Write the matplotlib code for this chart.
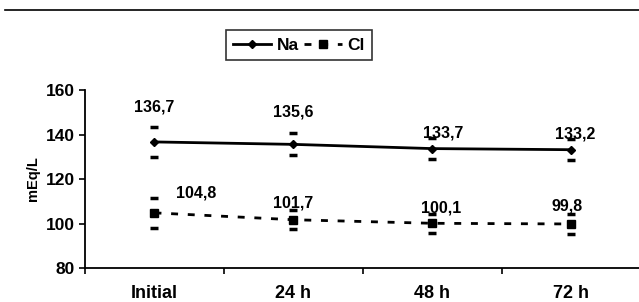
import numpy as np
import matplotlib.pyplot as plt
from matplotlib.lines import Line2D

plt.rcParams['font.family'] = 'Liberation Sans'
plt.rcParams['font.weight'] = 'bold'
plt.rcParams['font.size'] = 12

# ── data ─────────────────────────────────────────────────────────
categories = ['Initial', '24 h', '48 h', '72 h']
na_mean = [136.7, 135.6, 133.7, 133.2]
na_sd   = [6.8, 5.0, 4.9, 4.7]
cl_mean = [104.8, 101.7, 100.1, 99.8]
cl_sd   = [6.8, 4.3, 4.2, 4.7]

# label offsets (points) relative to each point
na_off = [(0, 25), (0, 23), (8, 11), (3, 11)]
cl_off = [(30, 14), (0, 12), (6, 11), (-3, 13)]

x = np.arange(len(categories))

fig = plt.figure(figsize=(6.39, 3.02), dpi=100)
ax = fig.add_axes([0.133, 0.1126, 0.87, 0.589])

# error caps only (no vertical line)
ax.errorbar(x, na_mean, yerr=na_sd, fmt='none', ecolor='black',
            elinewidth=0, capsize=3, capthick=2.5)
ax.errorbar(x, cl_mean, yerr=cl_sd, fmt='none', ecolor='black',
            elinewidth=0, capsize=3, capthick=2.5)

ax.plot(x, na_mean, '-', color='black', lw=2, marker='D', ms=4,
        label='Na', zorder=3)
ax.plot(x, cl_mean, color='black', lw=2, dashes=(2.5, 3.5), marker='s',
        ms=6, label='Cl', zorder=3)

for xi, v, off in zip(x, na_mean, na_off):
    ax.annotate(f'{v:.1f}'.replace('.', ','), (xi, v), xytext=off,
                textcoords='offset points', ha='center', va='center',
                fontsize=11.5, fontweight='bold')
for xi, v, off in zip(x, cl_mean, cl_off):
    ax.annotate(f'{v:.1f}'.replace('.', ','), (xi, v), xytext=off,
                textcoords='offset points', ha='center', va='center',
                fontsize=11.5, fontweight='bold')

ax.set_xlim(-0.5, len(categories) - 0.5)
ax.set_ylim(80, 160)
ax.set_yticks([80, 100, 120, 140, 160])
ax.set_xticks(x)
ax.set_xticklabels(categories)
ax.set_xticks(np.arange(len(categories) + 1) - 0.5, minor=True)
ax.tick_params(axis='x', which='major', length=0, pad=12, labelsize=13)
ax.tick_params(axis='x', which='minor', length=4, width=1.2, direction='out')
ax.tick_params(axis='y', length=4, width=1.2, direction='out', labelsize=12.5)
ax.set_ylabel('mEq/L', fontsize=10.5, fontweight='bold', labelpad=4)

for s in ['top', 'right']:
    ax.spines[s].set_visible(False)
for s in ['left', 'bottom']:
    ax.spines[s].set_linewidth(1.3)

leg = fig.legend(loc='center', bbox_to_anchor=(299 / 639, 1 - 45 / 302), ncol=2,
                 frameon=True, fancybox=False, edgecolor='black', handlelength=2.2,
                 columnspacing=0.3, handletextpad=0.3, borderpad=0.4,
                 borderaxespad=0, prop={'weight': 'bold', 'size': 12.5})
leg.get_frame().set_linewidth(1.2)

# horizontal rule at the top of the page
fig.add_artist(Line2D([5 / 639, 1.0], [1 - 9.5 / 302, 1 - 9.5 / 302],
                      color='black', lw=1.2))

fig.savefig('out.png', dpi=100)
